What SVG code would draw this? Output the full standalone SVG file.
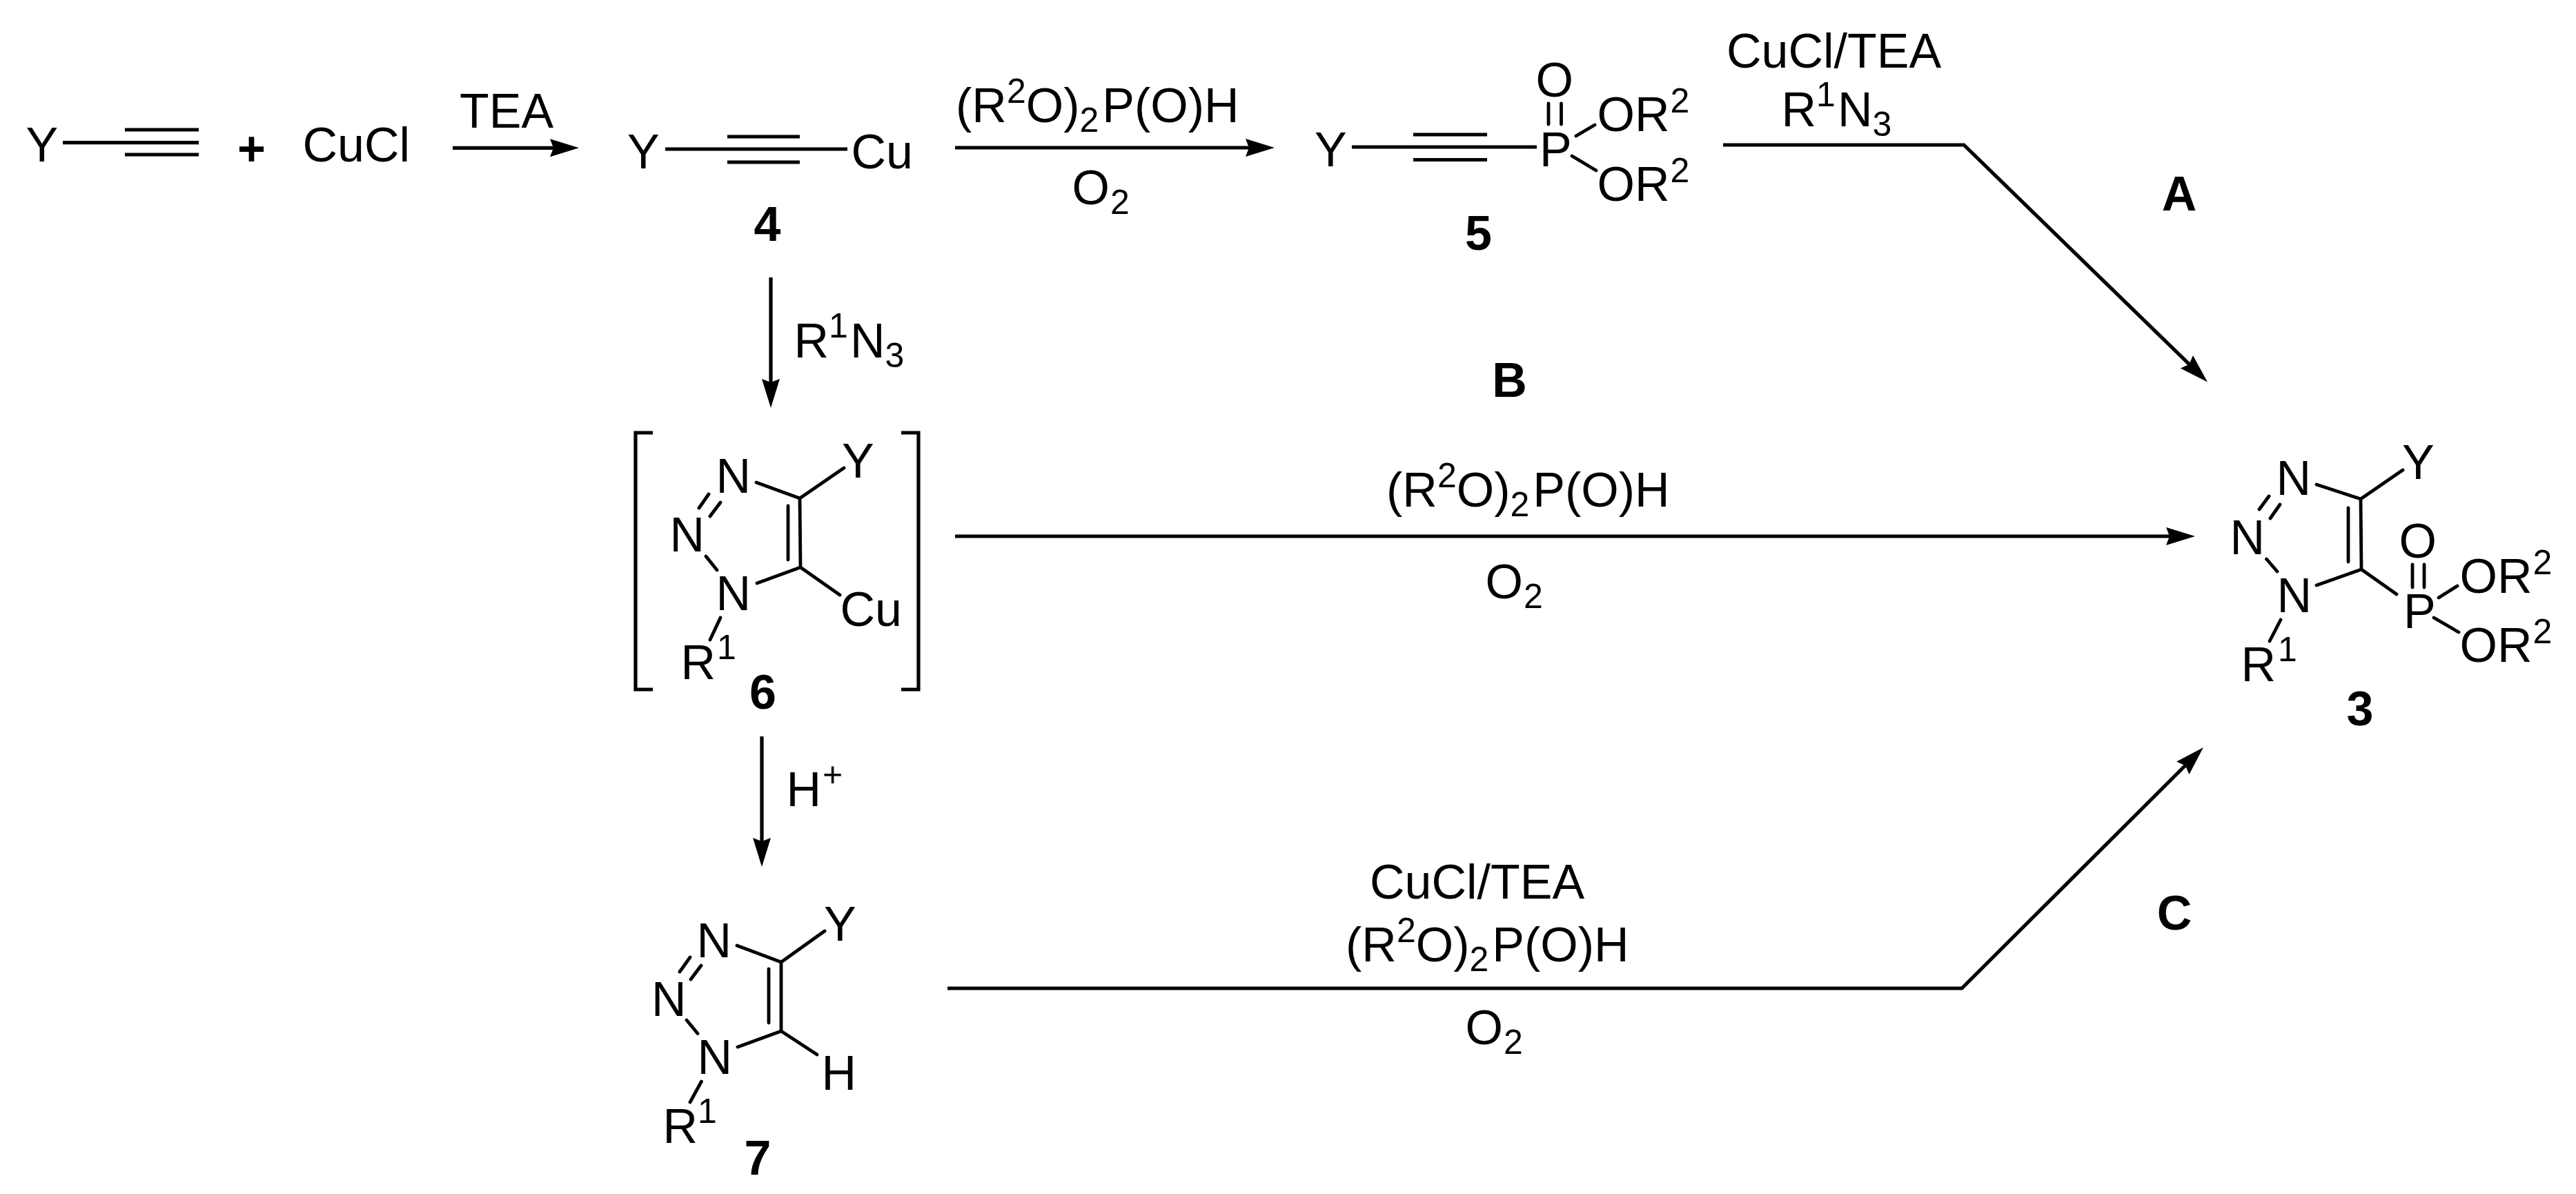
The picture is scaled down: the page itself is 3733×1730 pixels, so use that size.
<svg xmlns="http://www.w3.org/2000/svg" width="3733" height="1730" viewBox="0 0 3733 1730">
<style>
text{font-family:"Liberation Sans",Arial,sans-serif;font-size:70px;fill:#000}
.s{font-size:50px}
.n{font-weight:bold;text-anchor:middle}
.b{stroke:#000;stroke-width:4.8;fill:none;stroke-linecap:round;stroke-linejoin:round}
.t{stroke:#000;stroke-width:5.2;fill:none}
.a{stroke:#000;stroke-width:5.2;fill:none;marker-end:url(#head)}
</style>
<defs>
<marker id="head" markerUnits="userSpaceOnUse" markerWidth="44" markerHeight="26" refX="30" refY="13" orient="auto" viewBox="0 0 44 26">
<path d="M42 13L0 0L5 13L0 26z" fill="#000"/>
</marker>
</defs>
<rect width="3733" height="1730" fill="#fff"/>
<g id="connectors">
<path class="a" d="M656 214.3H827"/>
<path class="a" d="M1384 214H1835"/>
<path class="a" d="M1117 402V579"/>
<path class="a" d="M1104 1067V1244"/>
<path class="a" d="M1384 777H3169"/>
<path class="a" d="M2497 210H2846L3190.4 545.2"/>
<path class="a" d="M1373 1432H2843L3184.5 1091.5"/>
</g>
<g id="labels">
<text x="666" y="184.5">TEA</text>
<text x="1385" y="177">(R<tspan class="s" dy="-28">2</tspan><tspan dy="28">O)</tspan><tspan class="s" dy="14">2</tspan><tspan dy="-14" dx="5">P(O)H</tspan></text>
<text x="1553.5" y="296">O<tspan class="s" dy="14" dx="1">2</tspan></text>
<text x="2502" y="98">CuCl/TEA</text>
<text x="2581.5" y="183">R<tspan class="s" dy="-29">1</tspan><tspan dy="29" dx="3">N</tspan><tspan class="s" dy="14">3</tspan></text>
<text x="1150.5" y="517.5">R<tspan class="s" dy="-29">1</tspan><tspan dy="29" dx="3">N</tspan><tspan class="s" dy="14">3</tspan></text>
<text x="2009" y="734">(R<tspan class="s" dy="-28">2</tspan><tspan dy="28">O)</tspan><tspan class="s" dy="14">2</tspan><tspan dy="-14" dx="5">P(O)H</tspan></text>
<text x="2152.5" y="867">O<tspan class="s" dy="14" dx="1">2</tspan></text>
<text x="1139.5" y="1168">H<tspan class="s" dy="-29" dx="2">+</tspan></text>
<text x="1985" y="1302">CuCl/TEA</text>
<text x="1950" y="1393">(R<tspan class="s" dy="-28">2</tspan><tspan dy="28">O)</tspan><tspan class="s" dy="14">2</tspan><tspan dy="-14" dx="5">P(O)H</tspan></text>
<text x="2123.5" y="1513">O<tspan class="s" dy="14" dx="1">2</tspan></text>
<text class="n" x="3158" y="305">A</text>
<text class="n" x="2187.5" y="575">B</text>
<text class="n" x="3151" y="1347">C</text>
</g>
<g id="alkyne">
<text x="37.5" y="234">Y</text>
<path class="t" d="M91 206.6H288M181 188H288M181 224H288"/>
</g>
<g id="plus"><text x="364.5" y="240" text-anchor="middle" font-weight="bold">+</text></g>
<g id="cucl"><text x="438.5" y="234">CuCl</text></g>
<g id="compound-4">
<text x="909" y="244">Y</text>
<path class="t" d="M964 216H1228M1054 198H1159M1054 235H1159"/>
<text x="1233.5" y="244">Cu</text>
<text class="n" x="1112" y="349">4</text>
</g>
<g id="compound-5">
<text x="1905" y="241">Y</text>
<path class="t" d="M1959 213H2227M2048 195H2155M2048 231.5H2155"/>
<text x="2231" y="241">P</text>
<text x="2225.5" y="140">O</text>
<path class="b" d="M2244 150V180M2262.5 150V180M2284 197L2311 181M2278 226L2313 247"/>
<text x="2314.5" y="190">OR<tspan class="s" dy="-27" dx="1">2</tspan></text>
<text x="2314.5" y="291">OR<tspan class="s" dy="-27" dx="1">2</tspan></text>
<text class="n" x="2142.5" y="362">5</text>
</g>
<g id="compound-6">
<path class="t" d="M946 627H921V999H946M1306 627H1331V999H1306"/>
<text x="1037.5" y="714">N</text>
<text x="970.5" y="799">N</text>
<text x="1037.5" y="884">N</text>
<text x="1220" y="692">Y</text>
<path class="b" d="M1096 699L1159 722L1160 822L1097 845M1159 722L1223 678M1142 733V811M1027 716L1013 736M1044 728L1029 748M1023 806L1039 826M1044 895L1029 927M1160 822L1217 862"/>
<text x="986.5" y="984">R<tspan class="s" dy="-29" dx="2">1</tspan></text>
<text x="1217.5" y="907">Cu</text>
<text class="n" x="1105.5" y="1027">6</text>
</g>
<g id="compound-7">
<text x="1009.5" y="1387">N</text>
<text x="944" y="1472">N</text>
<text x="1010.5" y="1556">N</text>
<text x="1194" y="1363">Y</text>
<path class="b" d="M1068 1370L1132 1394V1494L1069 1517M1132 1394L1195 1349M1132 1494L1184 1528M1114 1404V1482M1000 1387L985 1408M1016 1399L1001 1419M995 1478L1011 1497.5M1016.5 1567L1000 1597"/>
<text x="960.5" y="1656">R<tspan class="s" dy="-29">1</tspan></text>
<text x="1190.5" y="1579">H</text>
<text class="n" x="1098" y="1702">7</text>
</g>
<g id="compound-3">
<text x="3298.5" y="717">N</text>
<text x="3231.5" y="803">N</text>
<text x="3299.5" y="887">N</text>
<text x="3481" y="694">Y</text>
<path class="b" d="M3357 702L3421 723L3422 825L3357 848M3421 723L3482 681M3422 825L3473 861M3403 736V814M3288 719L3274 738M3304 731L3290 751M3284.5 810L3300 828M3305 898L3289 929M3496 818V851M3513 818V851M3534 866L3561 849M3527 895L3563 916"/>
<text x="3247.5" y="987">R<tspan class="s" dy="-29" dx="3">1</tspan></text>
<text x="3476.5" y="808">O</text>
<text x="3483" y="910">P</text>
<text x="3564.5" y="859">OR<tspan class="s" dy="-27" dx="1">2</tspan></text>
<text x="3564.5" y="959">OR<tspan class="s" dy="-27" dx="1">2</tspan></text>
<text class="n" x="3420" y="1051">3</text>
</g>
</svg>
